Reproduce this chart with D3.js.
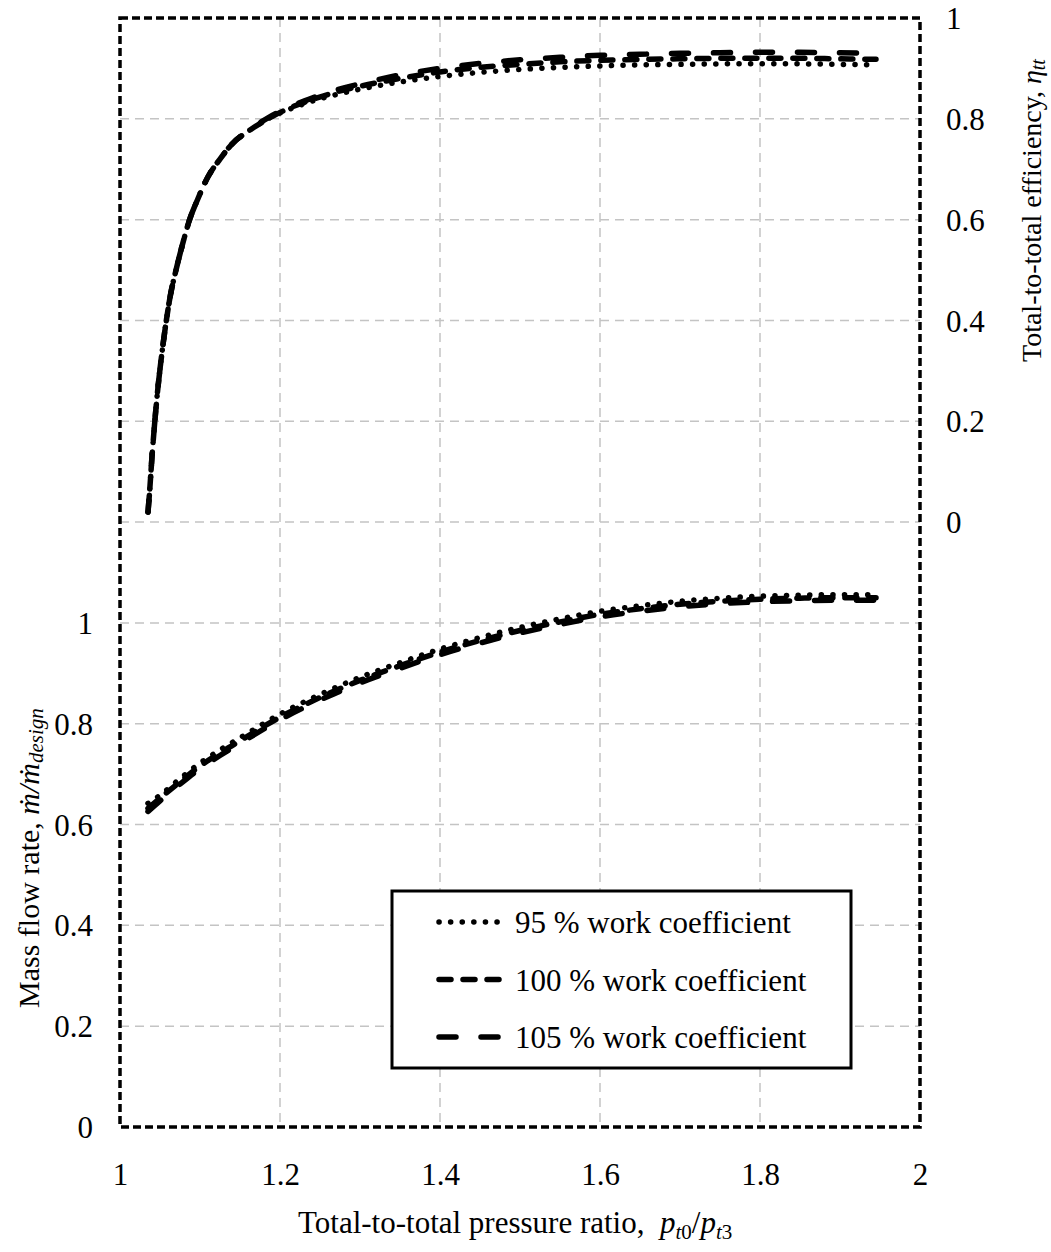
<!DOCTYPE html>
<html>
<head>
<meta charset="utf-8">
<script src="https://cdn.jsdelivr.net/npm/d3@7"></script>
<style>
  body { margin: 0; background: #fff; }
  text { font-family: "Liberation Serif", "Times New Roman", serif; fill: #000; }
</style>
</head>
<body>
<svg id="chart" width="1051" height="1252"></svg>
<script>
// pressure ratio samples for the efficiency curves
var etaPR = [1.035, 1.037, 1.04, 1.043, 1.047, 1.052, 1.057, 1.063, 1.07, 1.078, 1.087, 1.097,
    1.11, 1.125, 1.14, 1.16, 1.185, 1.21, 1.24, 1.27, 1.31, 1.35, 1.4, 1.45, 1.5, 1.55,
    1.6, 1.65, 1.7, 1.75, 1.8, 1.85, 1.9, 1.945];
var eta95 = [0.02, 0.06, 0.13, 0.19, 0.26, 0.33, 0.39, 0.45, 0.50, 0.55, 0.60, 0.64,
    0.685, 0.72, 0.75, 0.775, 0.80, 0.818, 0.835, 0.848, 0.862, 0.873, 0.884, 0.892, 0.898, 0.902,
    0.905, 0.907, 0.908, 0.909, 0.909, 0.909, 0.908, 0.907];
var eta100 = [0.02, 0.06, 0.13, 0.19, 0.26, 0.33, 0.39, 0.45, 0.50, 0.55, 0.60, 0.64,
    0.685, 0.72, 0.75, 0.775, 0.80, 0.82, 0.838, 0.853, 0.868, 0.88, 0.893, 0.902, 0.908, 0.913,
    0.916, 0.918, 0.919, 0.92, 0.92, 0.92, 0.919, 0.918];
var eta105 = [0.02, 0.06, 0.13, 0.19, 0.26, 0.33, 0.39, 0.45, 0.50, 0.55, 0.60, 0.64,
    0.685, 0.72, 0.75, 0.776, 0.802, 0.822, 0.841, 0.857, 0.873, 0.887, 0.90, 0.91, 0.917, 0.922,
    0.926, 0.928, 0.93, 0.931, 0.932, 0.932, 0.931, 0.93];

// pressure ratio samples for the mass flow curves
var mPR = [1.035, 1.05, 1.075, 1.1, 1.125, 1.15, 1.2, 1.25, 1.3, 1.35, 1.4, 1.45, 1.5,
    1.55, 1.6, 1.65, 1.7, 1.75, 1.8, 1.85, 1.9, 1.945];
var mass95 = [0.642, 0.658, 0.691, 0.722, 0.748, 0.772, 0.819, 0.858, 0.892, 0.921, 0.948, 0.971, 0.991,
    1.008, 1.023, 1.034, 1.043, 1.049, 1.053, 1.055, 1.056, 1.056];
var mass100 = [0.632, 0.652, 0.685, 0.716, 0.742, 0.766, 0.813, 0.852, 0.886, 0.915, 0.942, 0.965, 0.985,
    1.002, 1.017, 1.028, 1.037, 1.043, 1.047, 1.049, 1.05, 1.05];
var mass105 = [0.626, 0.647, 0.680, 0.711, 0.737, 0.761, 0.808, 0.847, 0.881, 0.910, 0.937, 0.960, 0.980,
    0.997, 1.012, 1.023, 1.032, 1.038, 1.042, 1.044, 1.045, 1.045];

var xTicks = [1, 1.2, 1.4, 1.6, 1.8, 2];
var xTickLabels = ['1', '1.2', '1.4', '1.6', '1.8', '2'];
var leftTicks = [0, 0.2, 0.4, 0.6, 0.8, 1];
var rightTicks = [0, 0.2, 0.4, 0.6, 0.8, 1];
var gridY = [0.2, 0.4, 0.6, 0.8, 1, 1.2, 1.4, 1.6, 1.8, 2];
var seriesNames = ['95 % work coefficient', '100 % work coefficient', '105 % work coefficient'];

var plotL = 120, plotR = 920, plotT = 18, plotB = 1127;
var fs = 31;

var svg = d3.select('#chart');
svg.append('rect').attr('width', 1051).attr('height', 1252).attr('fill', '#fff');

var x = d3.scaleLinear().domain([1, 2]).range([plotL, plotR]);
var yL = d3.scaleLinear().domain([0, 2.2]).range([plotB, plotT]);
var yR = d3.scaleLinear().domain([-1.2, 1]).range([plotB, plotT]);

// grid
var grid = svg.append('g').attr('stroke', '#c4c4c4').attr('stroke-width', 1.5)
    .attr('stroke-dasharray', '9,6');
grid.selectAll('line.gx').data(xTicks.slice(1, -1)).enter().append('line')
    .attr('x1', function (d) { return x(d); }).attr('x2', function (d) { return x(d); })
    .attr('y1', plotT).attr('y2', plotB);
grid.selectAll('line.gy').data(gridY).enter().append('line')
    .attr('x1', plotL).attr('x2', plotR)
    .attr('y1', function (d) { return yL(d); }).attr('y2', function (d) { return yL(d); });

// frame
svg.append('rect').attr('x', plotL).attr('y', plotT)
    .attr('width', plotR - plotL).attr('height', plotB - plotT)
    .attr('fill', 'none').attr('stroke', '#000').attr('stroke-width', 3.5)
    .attr('stroke-dasharray', '8,4');

// axes (labels only)
var xAxis = d3.axisBottom(x).tickValues(xTicks)
    .tickFormat(function (d, i) { return xTickLabels[i]; }).tickSize(0).tickPadding(0);
var gx = svg.append('g').attr('transform', 'translate(0,' + 1185 + ')').call(xAxis);
gx.select('.domain').remove();
gx.selectAll('text').attr('dy', 0).style('font-size', fs + 'px')
    .style('font-family', '"Liberation Serif", serif');

var yAxisL = d3.axisLeft(yL).tickValues(leftTicks).tickFormat(d3.format('~g')).tickSize(0).tickPadding(0);
var gyl = svg.append('g').attr('transform', 'translate(93,0)').call(yAxisL);
gyl.select('.domain').remove();
gyl.selectAll('text').attr('dy', '0.34em').style('font-size', fs + 'px')
    .style('font-family', '"Liberation Serif", serif');

var yAxisR = d3.axisRight(yR).tickValues(rightTicks).tickFormat(d3.format('~g')).tickSize(0).tickPadding(0);
var gyr = svg.append('g').attr('transform', 'translate(946,0)').call(yAxisR);
gyr.select('.domain').remove();
gyr.selectAll('text').attr('dy', '0.34em').style('font-size', fs + 'px')
    .style('font-family', '"Liberation Serif", serif');

// curves
var styles = [
    { dash: '0.1,11.5' },
    { dash: '12,12' },
    { dash: '17,25' }
];

function drawCurve(xs, ys, yScale, style) {
    var pts = xs.map(function (d, i) { return [d, ys[i]]; });
    var line = d3.line()
        .x(function (d) { return x(d[0]); })
        .y(function (d) { return yScale(d[1]); })
        .curve(d3.curveMonotoneX);
    svg.append('path').datum(pts).attr('d', line)
        .attr('fill', 'none').attr('stroke', '#000').attr('stroke-width', 5.5)
        .attr('stroke-linecap', 'round').attr('stroke-linejoin', 'round')
        .attr('stroke-dasharray', style.dash);
}

var etaSeries = [eta95, eta100, eta105];
var massSeries = [mass95, mass100, mass105];
etaSeries.forEach(function (s, i) { drawCurve(etaPR, s, yR, styles[i]); });
massSeries.forEach(function (s, i) { drawCurve(mPR, s, yL, styles[i]); });

// legend
var lg = svg.append('g');
lg.append('rect').attr('x', 392).attr('y', 891).attr('width', 459).attr('height', 177)
    .attr('fill', '#fff').attr('stroke', '#000').attr('stroke-width', 3);
seriesNames.forEach(function (name, i) {
    var yy = 922 + i * 57.5;
    lg.append('line').attr('x1', 439).attr('x2', 500).attr('y1', yy).attr('y2', yy)
        .attr('stroke', '#000').attr('stroke-width', 5.5).attr('stroke-linecap', 'round')
        .attr('stroke-dasharray', styles[i].dash);
    lg.append('text').attr('x', 515).attr('y', yy + 11).style('font-size', fs + 'px').text(name);
});

// axis titles
var xt = svg.append('text').attr('x', 298).attr('y', 1233).style('font-size', '31px')
    .attr('xml:space', 'preserve');
xt.append('tspan').text('Total-to-total pressure ratio,  ');
xt.append('tspan').style('font-style', 'italic').text('p');
xt.append('tspan').style('font-style', 'italic').style('font-size', '21px').attr('dy', 6).text('t');
xt.append('tspan').style('font-size', '21px').text('0');
xt.append('tspan').attr('dy', -6).text('/');
xt.append('tspan').style('font-style', 'italic').text('p');
xt.append('tspan').style('font-style', 'italic').style('font-size', '21px').attr('dy', 6).text('t');
xt.append('tspan').style('font-size', '21px').text('3');

var yt = svg.append('text').attr('transform', 'translate(39,1008) rotate(-90)')
    .style('font-size', '30px');
yt.append('tspan').text('Mass flow rate, ');
yt.append('tspan').style('font-style', 'italic').text('ṁ/ṁ');
yt.append('tspan').style('font-style', 'italic').style('font-size', '21px').attr('dy', 4).text('design');

var rt = svg.append('text').attr('transform', 'translate(1041,362) rotate(-90)')
    .style('font-size', '28px');
rt.append('tspan').text('Total-to-total efficiency, ');
rt.append('tspan').style('font-style', 'italic').text('η');
rt.append('tspan').style('font-style', 'italic').style('font-size', '20px').attr('dy', 4).text('tt');
</script>
</body>
</html>
